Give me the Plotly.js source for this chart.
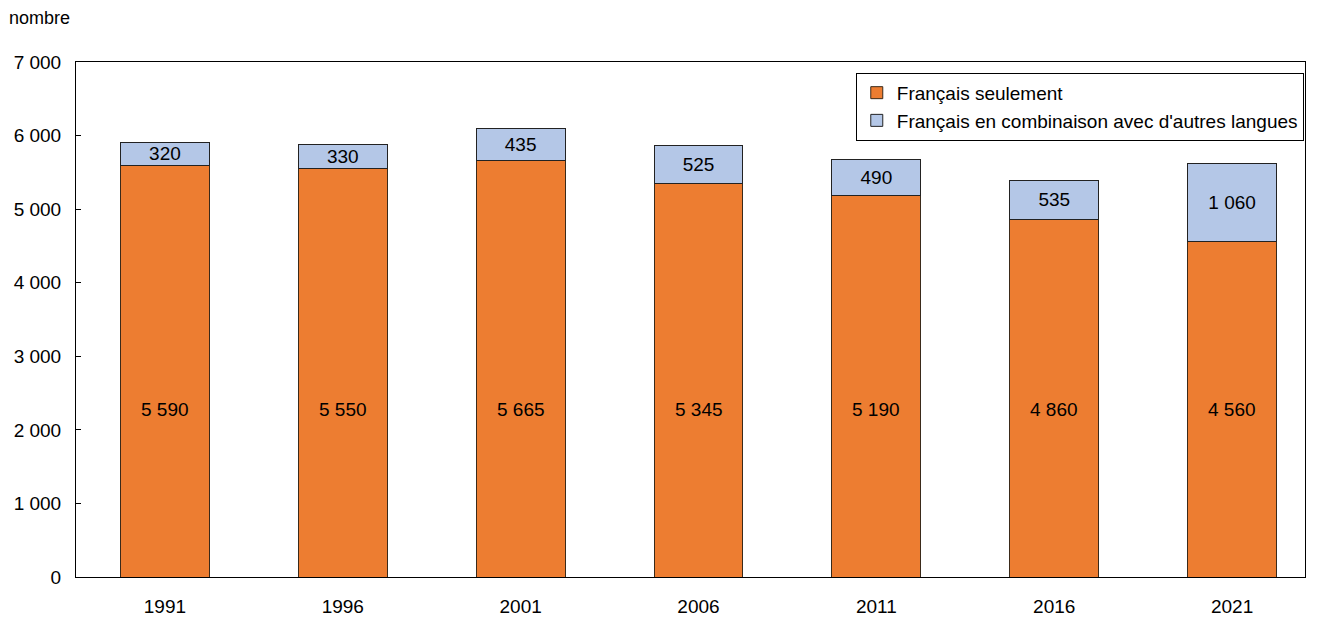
<!DOCTYPE html>
<html>
<head>
<meta charset="utf-8">
<script src="https://cdn.plot.ly/plotly-3.0.1.min.js"></script>
<style>html,body{margin:0;padding:0;background:#fff;}#chart{width:1318px;height:620px;}</style>
</head>
<body>
<div id="chart"></div>
<script>
const years = ["1991", "1996", "2001", "2006", "2011", "2016", "2021"];
const francaisSeulement = [5590, 5550, 5665, 5345, 5190, 4860, 4560];
const francaisCombinaison = [320, 330, 435, 525, 490, 535, 1060];
const yTicks = [0, 1000, 2000, 3000, 4000, 5000, 6000, 7000];

const font = "Liberation Sans, Arial, sans-serif";
const fmt = v => String(v).replace(/\B(?=(\d{3})+(?!\d))/g, " ");

const traces = [
  {
    type: "bar", x: years, y: francaisSeulement, width: 0.5,
    name: "Français seulement",
    marker: {color: "#ED7D31", line: {color: "#3a2a1a", width: 1}},
    hoverinfo: "skip"
  },
  {
    type: "bar", x: years, y: francaisCombinaison, width: 0.5,
    name: "Français en combinaison avec d'autres langues",
    marker: {color: "#B4C7E7", line: {color: "#222", width: 1}},
    textposition: "inside", insidetextanchor: "middle",
    texttemplate: "%{y:,.0f}", constraintext: "none",
    textfont: {family: font, size: 19, color: "#000"},
    hoverinfo: "skip"
  }
];

const labelLevel = 2280;
const annotations = years.map((yr, i) => ({
  x: i, y: labelLevel, xref: "x", yref: "y",
  text: fmt(francaisSeulement[i]), showarrow: false,
  font: {family: font, size: 19, color: "#000"}
}));
annotations.push({
  text: "nombre", xref: "paper", yref: "paper",
  x: -0.056, y: 1.085, xanchor: "left", yanchor: "middle",
  showarrow: false, font: {family: font, size: 18, color: "#000"}
});

const layout = {
  width: 1318, height: 620,
  margin: {l: 76, r: 13, t: 62, b: 43},
  barmode: "stack",
  separators: ", ",
  paper_bgcolor: "#fff",
  plot_bgcolor: "#fff",
  font: {family: font, size: 19, color: "#000"},
  showlegend: true,
  legend: {
    x: 0.999, xanchor: "right", y: 0.979, yanchor: "top",
    bordercolor: "#000", borderwidth: 1, bgcolor: "#fff",
    traceorder: "normal",
    font: {family: font, size: 19, color: "#000"},
    itemwidth: 30,
    tracegroupgap: 0
  },
  xaxis: {
    type: "category",
    range: [-0.5, 6.41],
    showline: true, linecolor: "#000", linewidth: 1, mirror: true,
    ticks: "", showgrid: false,
    ticklabelstandoff: 12,
    tickfont: {family: font, size: 19}
  },
  yaxis: {
    range: [0, 7000],
    tickvals: yTicks,
    tickformat: ",.0f",
    ticks: "inside", ticklen: 5, tickcolor: "#000",
    ticklabelstandoff: 10,
    showline: true, linecolor: "#000", linewidth: 1, mirror: true,
    showgrid: false, zeroline: false,
    tickfont: {family: font, size: 19}
  },
  annotations: annotations
};
Plotly.newPlot("chart", traces, layout, {staticPlot: true});
</script>
</body>
</html>
